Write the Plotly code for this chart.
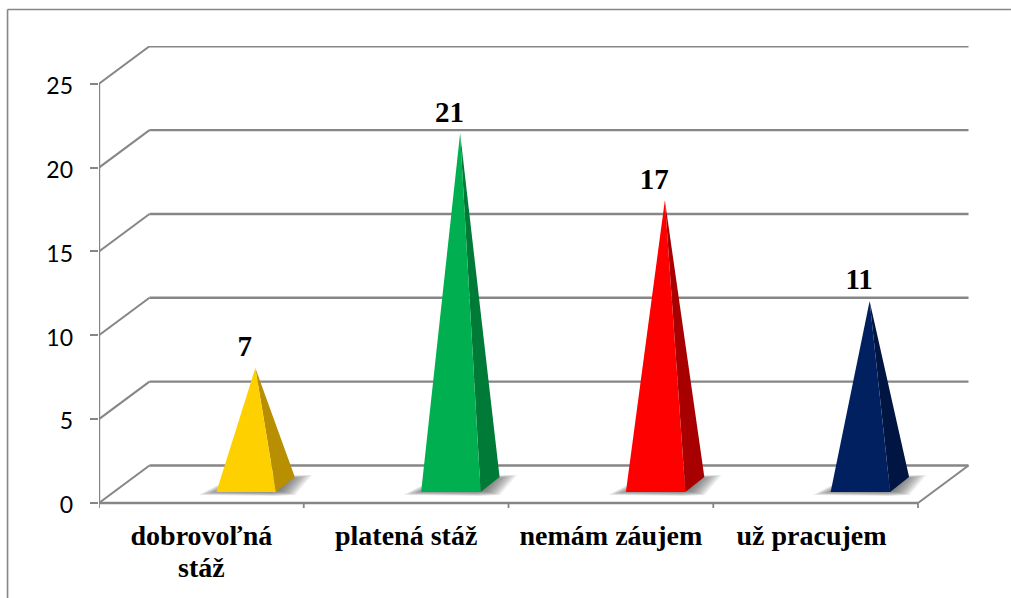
import plotly.graph_objects as go

categories = ["dobrovoľná", "platená stáž", "nemám záujem", "už pracujem"]
category_second_lines = ["stáž", "", "", ""]
label_nudges = [0, 0, 0, -0.02]
values = [7, 21, 17, 11]
value_labels = ["7", "21", "17", "11"]
front_colors = ["#FFD000", "#00B050", "#FF0000", "#002060"]
side_colors = ["#B88F00", "#007A37", "#A80000", "#001542"]
y_ticks = [0, 5, 10, 15, 20, 25]

GRID = "#868686"
CAT_PX = 204.875   # pixels per category
VAL_PX = 16.77     # pixels per value unit
FLOOR_PAD = 0.3    # axis range kept below value 0, so tick marks can hang under the floor
LEFT, RIGHT, TOP, BOTTOM = 98.5, 970.0, 46.0, 503.0 + FLOOR_PAD * VAL_PX


def dx(px):
    return px / CAT_PX


def dy(px):
    return px / VAL_PX


DEPTH_X, DEPTH_Y = dx(50.5), dy(37.5)
n = len(categories)
fig = go.Figure()


def poly(xs, ys, color):
    fig.add_trace(go.Scatter(x=xs, y=ys, mode="lines", fill="toself", fillcolor=color,
                             line=dict(width=0), hoverinfo="skip", showlegend=False,
                             cliponaxis=False))


def line(xs, ys, width=2.4):
    fig.add_trace(go.Scatter(x=xs, y=ys, mode="lines", line=dict(color=GRID, width=width),
                             hoverinfo="skip", showlegend=False, cliponaxis=False))


# walls and floor
for t in y_ticks:
    line([0, DEPTH_X], [t, t + DEPTH_Y], 2)
    line([DEPTH_X, n + DEPTH_X], [t + DEPTH_Y, t + DEPTH_Y])
line([0, 0], [0, y_ticks[-1]])
line([0, n], [0, 0])
line([n, n + DEPTH_X], [0, DEPTH_Y], 2)
for k in range(n + 1):
    line([k, k], [0, -FLOOR_PAD], 1.8)

# pyramids
for i, v in enumerate(values):
    c = i + 0.5
    ax = c + dx(54)
    ay = v + dy(17.6)
    lx, rx = c + dx(15), c + dx(74.5)
    by = dy(11)
    bx2, by2 = rx + dx(19), dy(26)
    # soft floor shadow
    sx0, sy0 = c + dx(54), dy(18)
    shape = [(-57, -10), (-36, 1), (-20, 9), (57, 10), (40, -10), (20, -11)]
    for k in range(16):
        sc = 1.0 - 0.03 * k
        poly([sx0 + dx(p[0] * sc) for p in shape], [sy0 + dy(p[1] * sc) for p in shape],
             "rgba(70,70,70,0.07)")
    poly([rx, bx2, ax], [by, by2, ay], side_colors[i])
    poly([lx, rx, ax], [by, by, ay], front_colors[i])

# data labels
fig.add_trace(go.Scatter(
    x=[i + 0.5 + dx(43.5) for i in range(n)],
    y=[v + dy(17.6 + 4.3) for v in values],
    mode="text", text=value_labels, textposition="top center",
    textfont=dict(family="Liberation Serif", size=29, color="#000000"),
    texttemplate="<b>%{text}</b>", hoverinfo="skip", showlegend=False, cliponaxis=False))

# outer frame
fx = lambda p: (p - LEFT) / (RIGHT - LEFT)
fy = lambda p: (BOTTOM - p) / (BOTTOM - TOP)
fig.add_shape(type="line", xref="paper", yref="paper", x0=fx(7), x1=fx(1011), y0=fy(9.5), y1=fy(9.5),
              line=dict(color=GRID, width=1.6))
fig.add_shape(type="line", xref="paper", yref="paper", x0=fx(7), x1=fx(7), y0=fy(598), y1=fy(9.5),
              line=dict(color=GRID, width=1.6))

# wrapped second lines of category labels, set to the reference's tight line spacing
for i, s in enumerate(category_second_lines):
    if s:
        fig.add_annotation(x=i + 0.5, y=fy(568), xref="x", yref="paper", text=f"<b>{s}</b>",
                           showarrow=False, xanchor="center", yanchor="middle",
                           font=dict(family="Liberation Serif", size=28, color="#000000"))

fig.update_layout(
    width=1011, height=598, autosize=False,
    margin=dict(l=LEFT, r=1011 - RIGHT, t=TOP, b=598 - BOTTOM, pad=0),
    paper_bgcolor="#FFFFFF", plot_bgcolor="#FFFFFF", showlegend=False,
    xaxis=dict(range=[0, (RIGHT - LEFT) / CAT_PX], tickmode="array", automargin=False,
               tickvals=[i + 0.5 + d for i, d in enumerate(label_nudges)],
               ticktext=[f"<b>{c}</b>" for c in categories],
               ticks="", showgrid=False, zeroline=False, showline=False,
               tickfont=dict(family="Liberation Serif", size=28, color="#000000"),
               ticklabelstandoff=8),
    yaxis=dict(range=[-FLOOR_PAD, (503.0 - TOP) / VAL_PX], tickmode="array",
               tickvals=[t - 0.13 for t in y_ticks], ticktext=[str(t) for t in y_ticks], automargin=False,
               ticks="", showgrid=False, zeroline=False, showline=False,
               tickfont=dict(family="Lato", size=23, color="#000000"),
               ticklabelstandoff=25,
               minor=dict(tickmode="array", tickvals=y_ticks, ticks="outside", ticklen=8,
                          tickwidth=1.8, tickcolor=GRID, showgrid=False)),
)
fig.write_html("out.html", config={"displayModeBar": False},
               post_script="document.documentElement.style.overflow='hidden';document.body.style.margin='0';")
